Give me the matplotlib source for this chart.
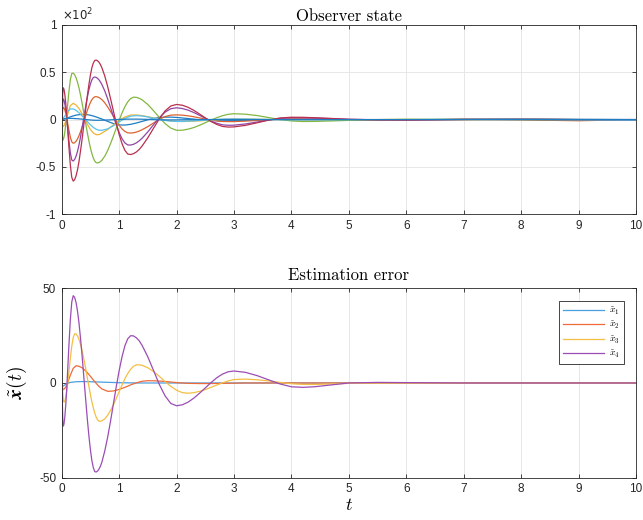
import matplotlib
matplotlib.use("Agg")
import matplotlib.pyplot as plt
from matplotlib.ticker import FuncFormatter

# time samples (coarse for the small curves)
t = [0, 0.02, 0.04, 0.07, 0.1, 0.15, 0.2, 0.25, 0.3, 0.35,
     0.4, 0.45, 0.5, 0.55, 0.6, 0.65, 0.7, 0.8, 0.9, 1.0,
     1.1, 1.2, 1.3, 1.4, 1.5, 1.6, 1.7, 1.8, 1.9, 2.0,
     2.1, 2.2, 2.4, 2.6, 2.8, 3.0, 3.2, 3.4, 3.6, 3.8,
     4.0, 4.2, 4.4, 4.7, 5.0, 5.5, 6, 7, 8, 9, 10]

# finer samples for the large oscillations
t_fine = [0, 0.01, 0.02, 0.03, 0.04, 0.055, 0.07, 0.085, 0.1, 0.125,
          0.15, 0.175, 0.2, 0.225, 0.25, 0.275, 0.3, 0.325, 0.35, 0.375,
          0.4, 0.425, 0.45, 0.475, 0.5, 0.525, 0.55, 0.575, 0.6, 0.625,
          0.65, 0.675, 0.7, 0.75, 0.8, 0.85, 0.9, 0.95, 1.0, 1.05,
          1.1, 1.15, 1.2, 1.25, 1.3, 1.35, 1.4, 1.5, 1.6, 1.7,
          1.8, 1.9, 2.0, 2.1, 2.2, 2.3, 2.4, 2.5, 2.6, 2.7,
          2.8, 2.9, 3.0, 3.2, 3.4, 3.6, 3.8, 4.0, 4.2, 4.4,
          4.7, 5.0, 5.5, 6, 7, 8, 9, 10]

# observer state (8 components)
obs_1 = [0, 0.3, 0.6, 1.1, 1.8, 2.9, 3.9, 4.7, 5.2, 5.5,
         5.5, 5.2, 4.6, 3.8, 2.8, 1.7, 0.6, -1.9, -4.2, -5.6,
         -5.8, -5, -3.6, -1.9, -0.2, 1.2, 2.2, 2.6, 2.6, 2.3,
         1.7, 1.1, -0.1, -0.9, -1.2, -1.1, -0.8, -0.4, 0, 0.3,
         0.4, 0.4, 0.3, 0.2, 0, 0, 0, 0.2, 0.8, 0.3, 0]
obs_2 = [0, 5.2, 12.6, 12.9, 12.2, 10, 6.6, 2.4, -2.5, -11.1,
         -18.6, -23.5, -25, -24.4, -22.8, -20.4, -17.1, -13.1, -8.8, -4,
         0.9, 5.8, 10.4, 14.5, 18.2, 21.1, 23, 24.1, 24.2, 23.9,
         23.3, 22.3, 21.1, 17.7, 13.4, 8.5, 3.5, -1.5, -6, -9.8,
         -12.5, -14, -14.2, -13.9, -13.2, -12.1, -10.7, -7.4, -3.5, 0.3,
         3.2, 4.7, 5, 4.7, 4, 3, 1.8, 0.5, -0.6, -1.5,
         -2, -2.1, -2.1, -1.6, -0.9, -0.1, 0.5, 0.8, 0.7, 0.5,
         0.2, -0.1, -0.5, -0.4, 0.5, -0.3, -1.2, 0]
obs_3 = [0, -7.6, -6.4, -1.8, 4.8, 14.8, 17.2, 15.4, 11.8, 6.6,
         0.6, -5.3, -10.5, -14.2, -15.9, -15.9, -14.2, -10.5, -5.5, -0.8,
         2.8, 4.8, 4.9, 4.2, 3.1, 1.8, 0.5, -0.6, -1.4, -1.9,
         -2.0, -1.9, -1.3, -0.5, 0.2, 0.6, 0.6, 0.4, 0.2, 0,
         -0.2, -0.2, -0.2, -0.1, 0, 0, 0.2, -0.3, 0.4, 0, 0]
obs_4 = [0, 8.8, 21.1, 21.7, 20.3, 16.2, 9.9, 2.1, -7, -22.2,
         -35.1, -42.7, -43.8, -42.1, -38.6, -33.5, -26.9, -19.1, -10.4, -1.3,
         7.8, 16.6, 24.8, 32, 37.7, 42, 44.4, 45, 44.6, 43.5,
         41.9, 39.7, 37, 30.2, 21.9, 12.7, 3.4, -5.6, -13.7, -20.2,
         -24.6, -26.8, -26.9, -26.1, -24.6, -22.4, -19.7, -12.9, -5.3, 2,
         7.9, 11.5, 12.5, 11.7, 10, 7.5, 4.5, 1.4, -1.6, -3.9,
         -5.5, -6, -5.9, -4.6, -2.6, -0.5, 1.3, 2, 1.9, 1.6,
         1, 0.3, -0.2, -0.4, 0.1, 0.2, 0, 0]
obs_5 = [0, -16.5, -21.8, -20.6, -18.3, -12.7, -5.1, 3.9, 13.7, 29.6,
         42.2, 48.8, 49.1, 47.4, 44.1, 39.5, 33.6, 26.6, 18.8, 10.4,
         1.8, -6.8, -15.2, -23, -30, -35.9, -40.6, -43.8, -45.5, -45.8,
         -45.3, -44.3, -42.9, -38.6, -32.7, -25.4, -17.3, -9, -0.7, 7,
         13.6, 18.8, 22.2, 23.7, 23.5, 22.5, 20.9, 15.9, 9.3, 2.3,
         -4.2, -9, -11.3, -11.2, -10.1, -8.4, -6, -3.3, -0.5, 2.0,
         4.1, 5.6, 6.2, 5.7, 4.3, 2.2, 0.1, -1.4, -2, -1.9,
         -1.4, -0.8, 0, 0.3, 0.2, 0, -0.2, 0]
obs_6 = [0, 1, 2.5, 5.5, 8.5, 11.2, 11.3, 9.8, 7.3, 4.2,
         1, -2.3, -5.5, -8.2, -10.2, -11.2, -11.3, -9.8, -6.5, -2.5,
         1.2, 3.6, 4.2, 3.8, 2.8, 1.4, 0.2, -0.9, -1.6, -1.9,
         -1.9, -1.6, -0.9, -0.2, 0.4, 0.6, 0.6, 0.4, 0.2, 0,
         -0.2, -0.2, -0.2, -0.1, 0, 0, 0, 0.3, 0.5, -0.3, -0.8]
obs_7 = [0, 13.6, 32.6, 33.6, 31.7, 26, 17.2, 6.2, -6.6, -28.8,
         -48.2, -61.1, -65, -63.5, -59.3, -53, -44.5, -34, -22.8, -10.5,
         2.3, 15, 27, 37.7, 47.2, 54.8, 59.8, 62.5, 62.9, 62.1,
         60.5, 58, 54.7, 46, 34.9, 22.2, 9, -3.9, -15.7, -25.4,
         -32.5, -36.4, -36.9, -36, -34.2, -31.5, -27.9, -19.1, -9, 0.9,
         9.2, 14.4, 16, 15.2, 13, 9.8, 5.9, 1.8, -2, -5.1,
         -7.2, -7.9, -7.7, -6.1, -3.4, -0.6, 1.7, 2.5, 2.4, 2.0,
         1.2, 0.3, -0.3, -0.5, 0.2, 0.3, 0, 0]
obs_8 = [0, 0.5, 0.8, 1, 1.2, 1.3, 1.2, 1, 0.8, 0.5,
         0.2, -0.1, -0.4, -0.6, -0.7, -0.7, -0.6, -0.4, -0.1, 0.2,
         0.4, 0.5, 0.5, 0.4, 0.2, 0, -0.2, -0.3, -0.3, -0.3,
         -0.2, -0.1, 0, 0.1, 0.1, 0.1, 0, 0, 0, 0,
         0, 0, 0, 0, 0, 0, 0, 0, 0, 0, 0]

# estimation error
err_1 = [0, -1.7, -1.3, -0.7, -0.2, 0.3, 0.5, 0.65, 0.7, 0.75,
         0.75, 0.7, 0.65, 0.6, 0.55, 0.5, 0.45, 0.35, 0.25, 0.15,
         0.1, 0.05, 0, 0, 0, 0, 0, 0, 0, 0,
         0, 0, 0, 0, 0, 0, 0, 0, 0, 0,
         0, 0, 0, 0, 0, 0, 0, 0, 0, 0, 0]
err_2 = [0, -3.5, -3.3, -2.1, -0.1, 4.1, 7.7, 9.1, 8.8, 8.1,
         6.85, 5.3, 3.5, 1.6, -0.2, -1.85, -3.15, -4.4, -4.2, -3.4,
         -2.3, -1.0, 0.1, 0.9, 1.2, 1.15, 1.0, 0.8, 0.5, 0.2,
         0, -0.2, -0.3, -0.3, -0.2, -0.1, 0, 0, 0, 0,
         0, 0, 0, 0, 0, 0, 0, 0, 0, 0, 0]
err_3 = [0, -1.9, -6.2, -9.7, -10.1, -9.3, -7.4, -4.7, -1.15, 5.7,
         12.9, 19.4, 23.9, 25.9, 25.8, 24.8, 23.0, 20.6, 17.7, 14.1,
         10.4, 6.3, 2.1, -2.1, -6.1, -9.9, -13.1, -15.9, -18.0, -19.5,
         -20.1, -20.2, -19.9, -18.9, -17.0, -14.5, -11.5, -8.1, -4.6, -1.1,
         2.2, 5.0, 7.2, 8.8, 9.55, 9.55, 9.3, 8.0, 6.0, 3.5,
         0.7, -1.8, -3.8, -5.1, -5.4, -5.1, -4.4, -3.5, -2.3, -1.1,
         0.1, 1.1, 1.8, 2.05, 1.7, 1.1, 0.3, -0.4, -0.75, -0.8,
         -0.5, -0.2, 0, 0, 0, 0, 0, 0]
err_4 = [0, -9.2, -22.0, -22.7, -21.4, -17.5, -11.6, -4.2, 4.5, 19.7,
         33.4, 42.7, 46, 45.1, 42.3, 37.8, 31.8, 24.2, 16, 6.9,
         -2.4, -11.5, -20.5, -28.4, -35.3, -40.9, -44.6, -46.7, -46.9, -46.4,
         -45.3, -43.8, -41.6, -35.8, -28.5, -20.1, -11, -1.9, 6.5, 13.8,
         19.6, 23.3, 24.9, 24.8, 23.8, 22.2, 19.8, 13.7, 6.5, -0.8,
         -6.8, -10.8, -12, -11.5, -10.1, -8.0, -5.4, -2.6, 0.2, 2.75,
         4.7, 5.9, 6.3, 5.6, 3.9, 1.7, -0.5, -2.0, -2.3, -2.0,
         -1.0, 0, 0.3, 0.2, 0, 0, 0, 0]

obs_series = [(t, obs_1), (t_fine, obs_2), (t, obs_3), (t_fine, obs_4),
              (t_fine, obs_5), (t, obs_6), (t_fine, obs_7), (t, obs_8)]
obs_colors = ["#1F7DC4", "#DC6330", "#EDB53A", "#9046A6",
              "#82B741", "#58C2EE", "#B8304E", "#1F7DC4"]

err_series = [(t, err_1), (t, err_2), (t_fine, err_3), (t_fine, err_4)]
err_colors = ["#4A9FDF", "#EE6A3A", "#F4BE45", "#9B4DB5"]
err_labels = [r"$\tilde{x}_1$", r"$\tilde{x}_2$", r"$\tilde{x}_3$", r"$\tilde{x}_4$"]

plt.rcParams["font.family"] = ["Liberation Sans", "DejaVu Sans"]
plt.rcParams["mathtext.fontset"] = "cm"

fig = plt.figure(figsize=(6.43, 5.2), dpi=100)
ax1 = fig.add_axes([0.096, 0.588, 0.893, 0.364])
ax2 = fig.add_axes([0.096, 0.081, 0.893, 0.365])

for (x, vals), c in zip(obs_series, obs_colors):
    ax1.plot(x, vals, color=c, lw=0.9)

for (x, vals), c, lab in zip(err_series, err_colors, err_labels):
    ax2.plot(x, vals, color=c, lw=0.9, label=lab)


def style(ax):
    ax.set_xlim(0, 10)
    ax.set_xticks(range(0, 11))
    ax.tick_params(direction="in", top=True, right=True, length=3,
                   width=0.6, labelsize=8.5, colors="#262626", pad=4)
    for sp in ax.spines.values():
        sp.set_color("#262626")
        sp.set_linewidth(0.6)


style(ax1)
ax1.set_ylim(-100, 100)
ax1.set_yticks([-100, -50, 0, 50, 100])
ax1.yaxis.set_major_formatter(FuncFormatter(lambda v, p: "%g" % (v / 100)))
ax1.grid(True, color="#E3E3E3", lw=0.6)
ax1.set_axisbelow(True)
ax1.set_title("Observer state", fontfamily="cmr10", fontsize=12, pad=3)
ax1.text(0.0, 1.008, r"$\times10^{2}$", transform=ax1.transAxes,
         fontsize=8.5, color="#262626", math_fontfamily="dejavusans",
         va="bottom", ha="left")

style(ax2)
ax2.set_ylim(-50, 50)
ax2.set_yticks([-50, 0, 50])
ax2.yaxis.set_major_formatter(FuncFormatter(lambda v, p: "%g" % v))
ax2.grid(True, axis="x", color="#E3E3E3", lw=0.6)
ax2.set_axisbelow(True)
ax2.set_title("Estimation error", fontfamily="cmr10", fontsize=12, pad=6)
ax2.set_xlabel(r"$t$", fontsize=13, labelpad=1)
ax2.set_ylabel(r"$\tilde{\mathbfit{x}}(t)$", fontsize=14, labelpad=7)
leg = ax2.legend(loc="upper right", fontsize=7, handlelength=4.2,
                 handletextpad=0.5, fancybox=False, edgecolor="#262626",
                 framealpha=1, borderpad=0.4, labelspacing=0.28,
                 bbox_to_anchor=(0.987, 0.955))
leg.get_frame().set_linewidth(0.6)

fig.savefig("out.png", dpi=100)
